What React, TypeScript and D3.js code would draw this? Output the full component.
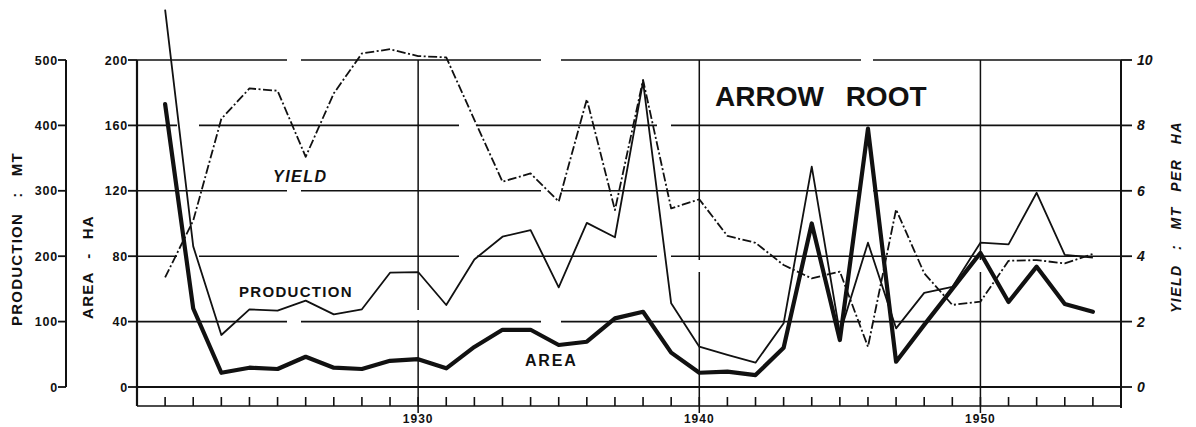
import React from "react";
import * as d3 from "d3";

const years = [1921, 1922, 1923, 1924, 1925, 1926, 1927, 1928, 1929, 1930, 1931, 1932, 1933, 1934, 1935, 1936, 1937, 1938, 1939, 1940, 1941, 1942, 1943, 1944, 1945, 1946, 1947, 1948, 1949, 1950, 1951, 1952, 1953, 1954];
const areaHa = [173, 48, 8.7, 11.8, 11, 18.5, 11.8, 11, 16, 17, 11.4, 24.5, 35, 35, 25.7, 27.7, 42, 46, 21, 8.7, 9.4, 7.3, 24, 100, 28.7, 158, 15.5, 38, 60, 82, 52, 73.6, 50.8, 46];
const productionMt = [577, 215, 79.5, 118.8, 116.7, 132, 111, 118.8, 174.8, 175.8, 125.4, 195, 229.8, 240, 152.4, 251, 229, 466.8, 128, 61.6, 49, 37.2, 97.4, 336.9, 82, 220.7, 89.7, 144, 153, 220.7, 218, 297, 202, 198];
const yieldMtHa = [3.35, 5.09, 8.2, 9.13, 9.06, 7.04, 8.98, 10.2, 10.33, 10.12, 10.08, 8.17, 6.28, 6.53, 5.67, 8.8, 5.41, 9.39, 5.46, 5.74, 4.62, 4.41, 3.73, 3.32, 3.53, 1.23, 5.43, 3.48, 2.51, 2.61, 3.86, 3.88, 3.78, 4.07];

const productionTicks = [0, 100, 200, 300, 400, 500];
const areaTicks = [0, 40, 80, 120, 160, 200];
const yieldTicks = [0, 2, 4, 6, 8, 10];
const yearTicks = [1920, 1921, 1922, 1923, 1924, 1925, 1926, 1927, 1928, 1929, 1930, 1931, 1932, 1933, 1934, 1935, 1936, 1937, 1938, 1939, 1940, 1941, 1942, 1943, 1944, 1945, 1946, 1947, 1948, 1949, 1950, 1951, 1952, 1953, 1954, 1955];
const decadeLabels = [1930, 1940, 1950];

const W = 1196;
const H = 427;
const X0 = 137;
const X1 = 1121;
const YTOP = 60;
const YBOT = 387;
const TICKROW = 406;
const FONT = "'Liberation Sans', Arial, sans-serif";

export default function App() {
  const x = d3.scaleLinear().domain([1920, 1955]).range([X0, X1]);
  const yArea = d3.scaleLinear().domain([0, 200]).range([YBOT, YTOP]);
  const yProd = d3.scaleLinear().domain([0, 500]).range([YBOT, YTOP]);
  const yYield = d3.scaleLinear().domain([0, 10]).range([YBOT, YTOP]);

  const mk = (vals: number[], ys: d3.ScaleLinear<number, number>) =>
    d3.line<number>().x((_, i) => x(years[i])).y((v) => ys(v))(vals) || "";

  const ink = "#111";

  return (
    <svg width={W} height={H} style={{ position: "absolute", left: 0, top: 0, background: "#fff" }} fontFamily={FONT}>
      <rect x={0} y={0} width={W} height={H} fill="#fff" />
      {/* horizontal grid lines */}
      {areaTicks.slice(1).map((t, i) => (
        <line key={"hg" + t} x1={X0} x2={X1} y1={yArea(t)} y2={yArea(t)} stroke={ink} strokeWidth={1.6}
          strokeDasharray={i % 2 === 0 ? "150 14 240 20 300 12 400" : "40 22 260 18 180 14 520"} />
      ))}
      {/* vertical decade lines */}
      {decadeLabels.map((yr, i) => (
        <line key={"vg" + yr} x1={x(yr)} x2={x(yr)} y1={YTOP} y2={TICKROW + 7} stroke={ink} strokeWidth={1.5}
          strokeDasharray={i === 0 ? "250 10 200" : "200 12 300"} />
      ))}
      {/* zero line and tick row */}
      <line x1={X0} x2={X1} y1={YBOT} y2={YBOT} stroke={ink} strokeWidth={1.8} />
      <line x1={X0} x2={X1} y1={TICKROW} y2={TICKROW} stroke={ink} strokeWidth={1.6} />
      {yearTicks.map((yr) => (
        <line key={"yt" + yr} x1={x(yr)} x2={x(yr)} y1={TICKROW} y2={TICKROW - 9} stroke={ink} strokeWidth={1.6} />
      ))}
      {decadeLabels.map((yr) => (
        <text key={"yl" + yr} x={x(yr)} y={423} textAnchor="middle" fontSize={12} fontWeight="bold" letterSpacing={1} fill={ink}>{yr}</text>
      ))}

      {/* production axis */}
      <line x1={66} x2={66} y1={YTOP} y2={YBOT} stroke={ink} strokeWidth={2} />
      {productionTicks.map((t) => (
        <g key={"pt" + t}>
          <line x1={58} x2={66} y1={yProd(t)} y2={yProd(t)} stroke={ink} strokeWidth={1.8} />
          <text x={58} y={yProd(t) + 4.5} textAnchor="end" fontSize={12.5} fontWeight="bold" letterSpacing={0.8} fill={ink}>{t}</text>
        </g>
      ))}
      <text transform={`translate(22,239) rotate(-90)`} textAnchor="middle" fontSize={15} fontWeight="bold" letterSpacing={1.2} wordSpacing={10} fill={ink}>PRODUCTION : MT</text>

      {/* area axis */}
      <line x1={X0} x2={X0} y1={YTOP} y2={TICKROW} stroke={ink} strokeWidth={2.2} />
      {areaTicks.map((t) => (
        <g key={"at" + t}>
          <line x1={128} x2={X0} y1={yArea(t)} y2={yArea(t)} stroke={ink} strokeWidth={1.8} />
          <text x={128} y={yArea(t) + 4.5} textAnchor="end" fontSize={12.5} fontWeight="bold" letterSpacing={0.8} fill={ink}>{t}</text>
        </g>
      ))}
      <text transform={`translate(93,267) rotate(-90)`} textAnchor="middle" fontSize={15} fontWeight="bold" letterSpacing={1.2} wordSpacing={8} fill={ink}>AREA - HA</text>

      {/* yield axis */}
      <line x1={X1} x2={X1} y1={YTOP} y2={TICKROW + 2} stroke={ink} strokeWidth={2} />
      {yieldTicks.map((t) => (
        <g key={"yt" + t}>
          <line x1={X1} x2={X1 + 11} y1={yYield(t)} y2={yYield(t)} stroke={ink} strokeWidth={1.8} />
          <text x={X1 + 16} y={yYield(t) + 5} textAnchor="start" fontSize={14} fontWeight="bold" fontStyle="italic" fill={ink}>{t}</text>
        </g>
      ))}
      <text transform={`translate(1181,217) rotate(-90)`} textAnchor="middle" fontSize={14} fontWeight="bold" fontStyle="italic" letterSpacing={1.5} wordSpacing={9} fill={ink}>YIELD : MT PER HA</text>

      {/* series */}
      <path d={mk(yieldMtHa, yYield)} fill="none" stroke={ink} strokeWidth={1.8} strokeDasharray="9 2.5 2 2.5" strokeLinejoin="round" />
      <path d={mk(productionMt, yProd)} fill="none" stroke={ink} strokeWidth={1.8} strokeLinejoin="round" />
      <path d={mk(areaHa, yArea)} fill="none" stroke={ink} strokeWidth={4.2} strokeLinejoin="round" strokeLinecap="round" />

      {/* labels */}
      <text x={715} y={106} fontSize={28} fontWeight="bold" wordSpacing={14} fill={ink}>ARROW ROOT</text>
      <text x={273} y={182} fontSize={16} fontWeight="bold" fontStyle="italic" letterSpacing={1.5} fill={ink}>YIELD</text>
      <text x={239} y={297} fontSize={15} fontWeight="bold" letterSpacing={1.3} fill={ink}>PRODUCTION</text>
      <text x={525} y={366} fontSize={16} fontWeight="bold" letterSpacing={1.8} fill={ink}>AREA</text>
    </svg>
  );
}
